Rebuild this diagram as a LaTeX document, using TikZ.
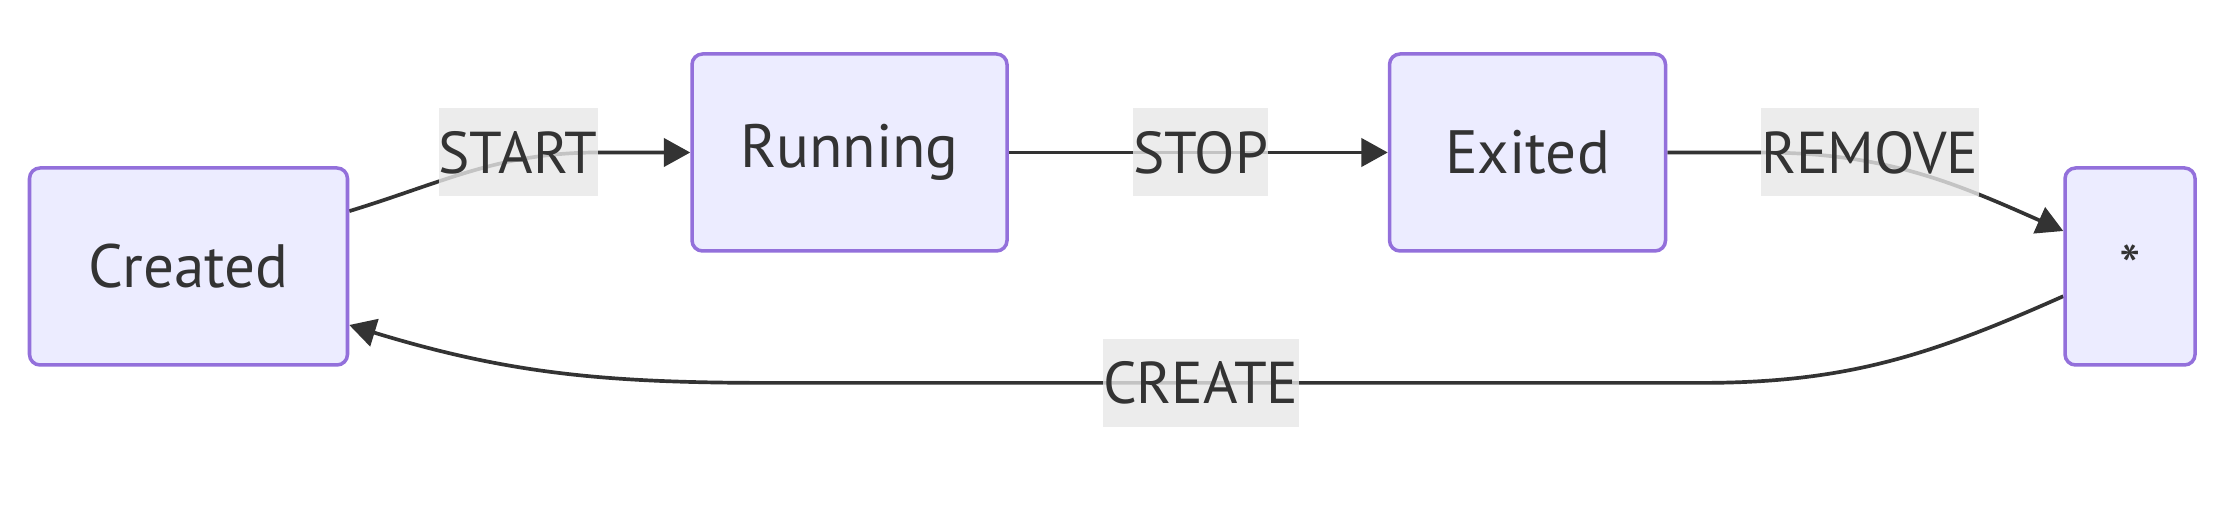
\documentclass[tikz,border=0pt]{standalone}
\usepackage{fontspec}
\setmainfont{PT Sans}
\usepackage{tikz}
\usetikzlibrary{positioning, arrows.meta, backgrounds}
\definecolor{statefill}{HTML}{ECECFF}
\definecolor{stateline}{HTML}{9370DB}
\definecolor{ink}{HTML}{333333}
\definecolor{lblgray}{HTML}{E8E8E8}
\tikzset{
  state/.style = {rectangle, rounded corners=3pt, draw=stateline, line width=1pt,
                  fill=statefill, minimum width=3.18cm, minimum height=1.97cm,
                  align=center, text=ink, font=\fontsize{17.4}{20}\selectfont},
  lbl/.style   = {rectangle, fill=lblgray, fill opacity=0.8, text opacity=1,
                  text=ink, inner xsep=0pt, minimum height=0.88cm,
                  font=\fontsize{16.8}{20}\selectfont},
  arr/.style   = {-{Triangle[length=7.5pt,width=8pt]}, line width=1.05pt, draw=ink},
}

\begin{document}
\begin{tikzpicture}

  \path[use as bounding box] (0,0) rectangle (22.22,-5.06);

  % States, left to right
  \node[state] (created) at (1.885,-2.665) {Created};
  \node[state, right=3.41cm of created, yshift=1.14cm, minimum width=3.15cm] (running) {Running};
  \node[state, right=3.79cm of running, minimum width=2.76cm] (exited) {Exited};
  \node[state, right=3.96cm of exited, yshift=-1.14cm, minimum width=1.3cm] (star) {*};

  % Transition labels
  \node[lbl, left=0.92cm of running] (startlbl) {START};
  \node[lbl, right=1.24cm of running] (stoplbl) {STOP};
  \node[lbl, right=0.93cm of exited] (removelbl) {REMOVE};
  \node[lbl, below=1.41cm of stoplbl] (createlbl) {CREATE};

  % Transitions, drawn behind the labels
  \begin{scope}[on background layer]
    \fill[white] (0,0) rectangle (22.22,-5.06);
    \draw[arr] (created.19) to[out=17, in=180] (startlbl.east) -- (running.west);
    \draw[arr] (running) -- (exited);
    \draw[arr] (exited.east) -- (removelbl.west) to[out=0, in=156] (star.152);
    \draw[arr] (star.204) to[out=204, in=0] ([xshift=5cm]createlbl.center)
      -- ([xshift=-4.3cm]createlbl.center) to[out=180, in=-17] (created.-20);
  \end{scope}

\end{tikzpicture}
\end{document}
